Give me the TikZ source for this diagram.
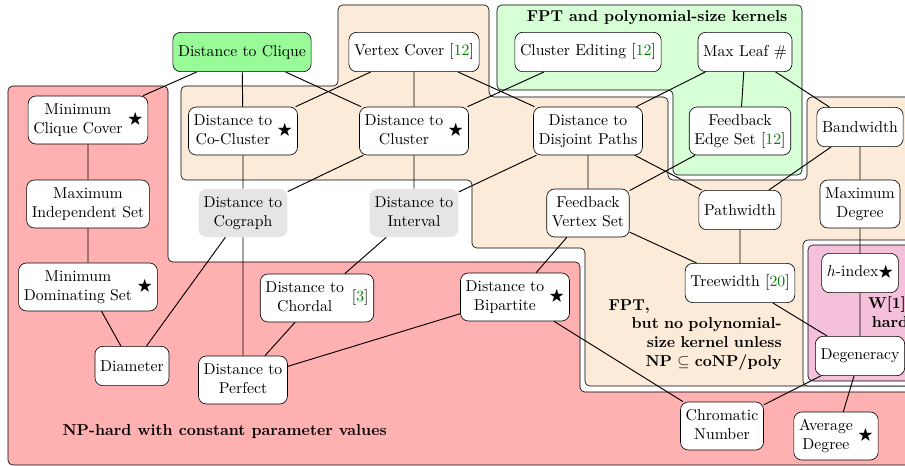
\documentclass[tikz,border=0pt]{standalone}
\usepackage{amssymb}

\definecolor{citegreen}{rgb}{0,0.5,0}
\definecolor{npred}{RGB}{255,176,176}
\definecolor{fptorange}{RGB}{253,235,217}
\definecolor{kerngreen}{RGB}{214,255,214}
\definecolor{whard}{RGB}{245,192,218}
\definecolor{cliquegreen}{RGB}{152,251,152}
\definecolor{opengrey}{RGB}{229,229,229}

\newcommand{\citeg}[1]{[\textcolor{citegreen}{#1}]}
\newcommand{\twoline}[2]{\begin{tabular}{@{}c@{}}#1\\#2\end{tabular}}

\begin{document}
\begin{tikzpicture}[x=0.6353pt, y=-0.6353pt,
    box/.style={draw, fill=white, rounded corners=5pt, align=center,
      inner xsep=3.3pt, inner ysep=3.25pt, minimum height=25pt},
    openbox/.style={box, draw=none, fill=opengrey},
    region/.style={draw, rounded corners=3pt},
    note/.style={font=\bfseries, align=center}]
  \path[use as bounding box, clip] (0,0) rectangle (905,466);

  % classes
  \draw[region, fill=npred] (8,86) -- (168,86) -- (168,262) -- (580,262) -- (580,392)
    -- (940,392) -- (940,465) -- (8,465) -- cycle;
  \draw[region, fill=fptorange] (338,5) -- (489,5) -- (489,97) -- (668,97) -- (668,180)
    -- (807,180) -- (807,97) -- (940,97) -- (940,386) -- (585,386) -- (585,248)
    -- (472,248) -- (472,180) -- (181,180) -- (181,86) -- (338,86) -- cycle;
  \draw[region, fill=kerngreen] (497,5) -- (802,5) -- (802,175) -- (673,175)
    -- (673,90) -- (497,90) -- cycle;
  \draw[region, fill=white] (803,240) -- (940,240) -- (940,386) -- (803,386) -- cycle;
  \draw[region, fill=whard] (808,245) -- (940,245) -- (940,381) -- (808,381) -- cycle;

  \node[note] (kerntitle) at (657,18) {FPT and polynomial-size kernels};
  \node[note, anchor=west] (nptitle) at (57,432) {NP-hard with constant parameter values};
  \node[font=\bfseries, text width=110pt, align=right, inner sep=0pt, anchor=north east]
    (fpttitle) at (782,299) {\makebox[110pt][l]{FPT,}\\ but no polynomial-\\
    size kernel unless\\ NP $\subseteq$ coNP/poly};
  \node[note] (wtitle) at (890,312) {W[1]-\\hard};

  % parameters
  \node[box, fill=cliquegreen] (clique) at (242,52) {Distance to Clique};
  \node[box] (vc) at (414,52) {Vertex Cover \citeg{12}};
  \node[box] (cedit) at (588,52) {Cluster Editing \citeg{12}};
  \node[box] (maxleaf) at (745,52) {Max Leaf \#};

  \node[box] (mcc) at (88,120) {\twoline{Minimum}{Clique Cover}\ $\bigstar$};
  \node[box] (cocl) at (243,131) {\twoline{Distance to}{Co-Cluster}\ $\bigstar$};
  \node[box] (clus) at (414,131) {\twoline{Distance to}{Cluster}\ $\bigstar$};
  \node[box] (djp) at (588,131) {\twoline{Distance to}{Disjoint Paths}};
  \node[box] (fes) at (740,131) {\twoline{Feedback}{Edge Set \citeg{12}}};
  \node[box] (bw) at (860,127) {Bandwidth};

  \node[box] (mis) at (88,204) {\twoline{Maximum}{Independent Set}};
  \node[openbox] (cograph) at (243,213) {\twoline{Distance to}{Cograph}};
  \node[openbox] (interval) at (414,213) {\twoline{Distance to}{Interval}};
  \node[box] (fvs) at (588,213) {\twoline{Feedback}{Vertex Set}};
  \node[box] (pw) at (740,210) {Pathwidth};
  \node[box] (maxdeg) at (860,204) {\twoline{Maximum}{Degree}};

  \node[box] (mds) at (88,287) {\twoline{Minimum}{Dominating Set}\ $\bigstar$};
  \node[box] (chordal) at (317,298) {\twoline{Distance to}{Chordal}\enspace\citeg{3}};
  \node[box] (bip) at (515,297) {\twoline{Distance to}{Bipartite}\ $\bigstar$};
  \node[box] (tw) at (740,283) {Treewidth \citeg{20}};
  \node[box] (hidx) at (860,273) {$h$-index$\bigstar$};

  \node[box] (diam) at (132,366) {Diameter};
  \node[box] (perfect) at (243,380) {\twoline{Distance to}{Perfect}};
  \node[box] (degen) at (860,356) {Degeneracy};
  \node[box] (chrom) at (722,426) {\twoline{Chromatic}{Number}};
  \node[box] (avgdeg) at (836,436) {\twoline{Average}{Degree}\ $\bigstar$};

  % hierarchy
  \draw[semithick] (clique) -- (mcc) (clique) -- (cocl) (clique) -- (clus)
    (vc) -- (cocl) (vc) -- (clus) (vc) -- (djp) (cedit) -- (clus)
    (maxleaf) -- (djp) (maxleaf) -- (fes) (maxleaf) -- (bw);
  \draw[semithick] (mcc) -- (mis) (mis) -- (mds) (mds) -- (diam)
    (cocl) -- (cograph) (clus) -- (cograph) (clus) -- (interval)
    (djp) -- (interval) (djp) -- (fvs) (djp) -- (pw) (fes) -- (fvs)
    (bw) -- (pw) (bw) -- (maxdeg);
  \draw[semithick] (cograph) -- (diam) (cograph) -- (perfect) (interval) -- (chordal)
    (fvs) -- (bip) (fvs) -- (tw) (pw) -- (tw) (maxdeg) -- (hidx)
    (chordal) -- (perfect) (bip) -- (perfect) (bip) -- (chrom)
    (tw) -- (degen) (hidx) -- (degen) (degen) -- (chrom) (degen) -- (avgdeg);
\end{tikzpicture}
\end{document}
